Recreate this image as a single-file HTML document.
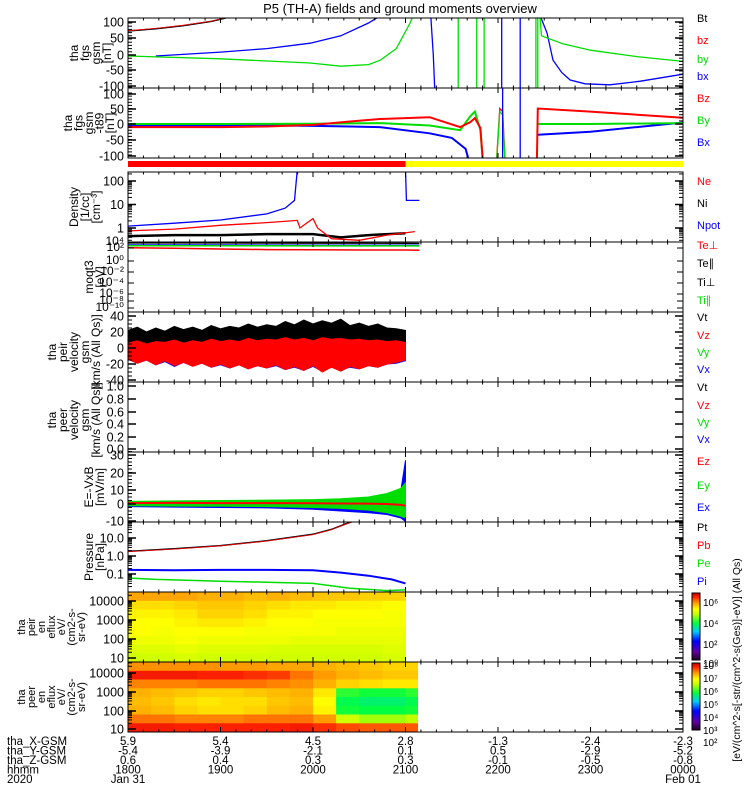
<!DOCTYPE html>
<html><head><meta charset="utf-8"><title>P5 overview</title>
<style>
html,body{margin:0;padding:0;background:#fff;}
svg{display:block;font-family:"Liberation Sans",sans-serif;}
text{font-size:11px;fill:#000;}
</style></head>
<body>
<svg id="plot" width="750" height="800" viewBox="0 0 750 800" xmlns="http://www.w3.org/2000/svg">
<defs>
<linearGradient id="cbar" x1="0" y1="1" x2="0" y2="0">
<stop offset="0" stop-color="#200020"/><stop offset="0.12" stop-color="#6000a0"/><stop offset="0.28" stop-color="#0000ff"/><stop offset="0.42" stop-color="#00c8ff"/><stop offset="0.55" stop-color="#00ff40"/><stop offset="0.68" stop-color="#c0ff00"/><stop offset="0.76" stop-color="#ffff00"/><stop offset="0.86" stop-color="#ff9000"/><stop offset="0.94" stop-color="#ff2000"/><stop offset="1" stop-color="#c00000"/>
</linearGradient>
</defs>
<text x="400" y="13" text-anchor="middle" style="font-size:13px">P5 (TH-A) fields and ground moments overview</text>
<g id="root"></g>
</svg>
<script>
// ---------- data ----------
const hourLabels = ["1800","1900","2000","2100","2200","2300","0000"];
const xGsm = ["5.9","5.4","4.5","2.8","-1.3","-2.4","-2.3"];
const yGsm = ["-5.4","-3.9","-2.1","0.1","0.5","-2.9","-5.2"];
const zGsm = ["0.6","0.4","0.3","0.3","-0.1","-0.5","-0.8"];

// panel 1 fgs (nT)
const btT = [0,0.3,0.6,0.9,1.05,1.15];
const btV = [75,82,92,105,115,125];
const bx1T = [0.3,1.0,1.5,1.97,2.3,2.6,2.8,3.27,3.3,3.32];
const bx1V = [-3,9,20,37,60,100,135,135,0,-135];
const bx2T = [4.46,4.53,4.595,4.69,4.78,4.94,5.21,5.54,6.0];
const bx2V = [120,69,-16,-55,-78,-90,-93,-82,-60];
const bxSpikeT = [4.04,4.24];
const by1T = [0,1,1.97,2.3,2.6,2.73,2.9,3.05,3.1];
const by1V = [-3,-12,-25,-35,-30,-16,20,100,135];
const by2T = [4.45,4.47,4.7,5.0,5.5,6.0];
const by2V = [135,60,35,15,-5,-20];
const bySpikeT = [3.57,3.77,3.85,4.41,4.43];

// panel 2 fgs-t89 (nT)
const dz1T = [0,1,1.5,2,2.4,2.72,3.26,3.59,3.70,3.75,3.81,3.84];
const dz1V = [-10,-10,-8,-3,8,16,22,-10,6,19,-13,-135];
const dy1T = [0,1,2,2.4,2.72,3.26,3.59,3.70,3.75,3.81,3.84];
const dy1V = [0,0,1,2,3,-5,-20,25,40,-20,-135];
const dx1T = [0,1,1.6,2.0,2.4,2.72,3.26,3.5,3.65,3.70];
const dx1V = [-5,-5,-5,-6,-8,-10,-30,-45,-80,-135];
const dzSpT = [3.98,4.02,4.05,4.08];
const dzSpV = [-135,50,40,-135];
const dz2T = [4.42,4.43,5.0,6.0];
const dz2V = [-135,50,40,20];
const dy2T = [4.43,5.0,6.0];
const dy2V = [0,0,3];
const dx2T = [4.43,5.0,5.5,6.0];
const dx2V = [-35,-25,-10,5];
const dxSpikeT = [4.05,4.24];

// panel 3 density (cm^-3)
const npotT = [0,0.5,1.0,1.5,1.7,1.8,1.83,3.0,3.01,3.15];
const npotV = [1.2,1.6,2.2,4,7,15,300,300,15,15];
const neT = [0,0.5,1,1.5,1.83,1.86,1.92,2.0,2.05,2.2,2.5,2.8,3.1];
const neV = [0.75,0.9,1.3,1.7,2.1,1.0,1.5,2.5,1.0,0.35,0.3,0.5,0.7];
const niT = [0,0.5,1,1.5,2,2.3,2.6,3.0];
const niV = [0.45,0.5,0.5,0.55,0.55,0.4,0.5,0.6];

// panel 4 temperatures (eV)
const tT = [0,0.5,1,1.5,2,2.5,3,3.15];
const teParV = [1900,1900,1850,1800,1700,1700,1650,1600];
const tiPerpV = [800,800,800,780,760,760,740,740];
const tiParV = [600,600,600,580,560,560,550,550];
const tePerpV = [250,200,150,120,110,100,100,90];

// panel 5 ion velocity envelopes (km/s)
const vT = [0,0.1,0.2,0.3,0.4,0.5,0.6,0.7,0.8,0.9,1.0,1.1,1.2,1.3,1.4,1.5,1.6,1.7,1.8,1.9,2.0,2.1,2.2,2.3,2.4,2.5,2.6,2.7,2.8,2.9,3.0];
const vtHi = [22,26,20,25,21,27,23,26,22,28,24,27,25,30,26,29,27,33,29,35,30,34,31,36,28,31,27,30,25,24,22];
const vtLo = [4,5,3,5,4,6,4,5,4,6,5,6,5,6,5,6,5,7,6,7,6,7,6,7,6,6,5,6,5,5,4];
const vzHi = [6,9,5,8,7,10,6,9,7,11,8,10,8,12,9,11,10,13,10,12,9,13,11,12,10,11,9,10,8,9,7];
const vzLo = [-14,-19,-15,-21,-16,-22,-18,-23,-19,-24,-20,-25,-21,-26,-22,-25,-21,-27,-23,-28,-22,-30,-24,-29,-23,-26,-22,-24,-20,-18,-15];
const vyLo = [-12,-17,-13,-19,-15,-21,-16,-20,-17,-22,-19,-23,-19,-24,-20,-23,-20,-25,-22,-26,-21,-27,-22,-26,-22,-24,-20,-22,-18,-17,-14];

// panel 7 E field (mV/m)
const eT = [0,0.5,1,1.5,2,2.3,2.6,2.8,2.95,3.0];
const eyHi = [1.5,1.8,2,2.2,2.5,3,4,6,9,12];
const eyLo = [-1,-1.2,-1.3,-1.5,-2,-2.5,-3.5,-5,-7,-8];
const exHi = [0.8,1,1.2,1.5,2,2.5,3,4,8,25];
const exLo = [-1.5,-1.8,-2,-2.2,-3,-4,-5,-6,-8,-10];
const ezV = [0.5,0.6,0.5,0.5,0.4,0.3,0.2,0,-0.5,-1];

// panel 8 pressure (nPa)
const pT = [0,0.5,1,1.5,2,2.2,2.35,2.5];
const ptV = [1.8,2.5,3.8,7,16,30,60,110];
const piT = [0,0.5,1,1.5,2,2.3,2.6,2.85,3.0];
const piV = [0.17,0.16,0.17,0.17,0.16,0.12,0.08,0.05,0.03];
const peT = [0,0.3,1,1.5,2,2.4,2.8,3.0];
const peV = [0.06,0.05,0.04,0.035,0.03,0.016,0.012,0.013];

// spectrograms: normalised log flux level (0..1), rows high->low energy, columns every 15 min
const ionSpec = [
 [0.84,0.84,0.84,0.83,0.83,0.82,0.83,0.82,0.81,0.81,0.80,0.80],
 [0.79,0.79,0.80,0.81,0.81,0.80,0.79,0.78,0.78,0.77,0.77,0.76],
 [0.77,0.77,0.78,0.80,0.80,0.79,0.77,0.77,0.76,0.76,0.76,0.75],
 [0.76,0.76,0.77,0.78,0.78,0.77,0.76,0.76,0.75,0.75,0.75,0.75],
 [0.76,0.75,0.76,0.76,0.76,0.75,0.75,0.75,0.75,0.74,0.74,0.74],
 [0.74,0.74,0.75,0.74,0.74,0.74,0.74,0.73,0.73,0.73,0.73,0.73],
 [0.72,0.72,0.73,0.72,0.72,0.72,0.71,0.71,0.71,0.71,0.71,0.72],
 [0.70,0.70,0.71,0.70,0.70,0.70,0.70,0.70,0.70,0.70,0.70,0.71]
];
const eleSpec = [
 [0.86,0.86,0.86,0.86,0.85,0.85,0.84,0.84,0.83,0.82,0.81,0.80,0.80],
 [0.95,0.95,0.95,0.94,0.94,0.93,0.92,0.88,0.85,0.83,0.82,0.81,0.81],
 [0.87,0.87,0.87,0.88,0.88,0.88,0.87,0.86,0.83,0.80,0.79,0.78,0.78],
 [0.83,0.82,0.81,0.80,0.80,0.81,0.82,0.83,0.78,0.58,0.56,0.56,0.58],
 [0.82,0.81,0.79,0.78,0.79,0.79,0.81,0.82,0.76,0.54,0.52,0.52,0.54],
 [0.83,0.82,0.80,0.79,0.79,0.80,0.82,0.83,0.77,0.56,0.55,0.55,0.56],
 [0.88,0.88,0.87,0.87,0.87,0.88,0.88,0.88,0.85,0.70,0.66,0.66,0.68],
 [0.95,0.95,0.94,0.94,0.94,0.94,0.94,0.95,0.93,0.91,0.90,0.90,0.90]
];
const ionEnd = 3.0, eleEnd = 3.13;

// ---------- helpers ----------
const NS = "http://www.w3.org/2000/svg";
const root = document.getElementById('root');
const X0 = 128, X1 = 683;
function xs(t){ return X0 + t*(X1-X0)/6; }
function mk(tag, attrs){ const e=document.createElementNS(NS,tag); for(const k in attrs) e.setAttribute(k, attrs[k]); return e; }
const panels = [
 {name:'fgs-panel',y0:18,y1:88},{name:'fgs-t89-panel',y0:88,y1:158},{name:'density-panel',y0:172,y1:242},
 {name:'temperature-panel',y0:242,y1:312},{name:'peir-velocity-panel',y0:312,y1:382},{name:'peer-velocity-panel',y0:382,y1:452},
 {name:'efield-panel',y0:452,y1:522},{name:'pressure-panel',y0:522,y1:592},{name:'ion-spectrogram-panel',y0:592,y1:662},{name:'electron-spectrogram-panel',y0:662,y1:732}
];
const groups = [];
panels.forEach((p,i)=>{
  const cp = mk('clipPath',{id:'clip'+i}); cp.appendChild(mk('rect',{x:X0,y:p.y0,width:X1-X0,height:p.y1-p.y0}));
  root.appendChild(cp);
  const g = mk('g',{'clip-path':'url(#clip'+i+')'});
  
  
  root.appendChild(g); groups.push(g);
});
function lin(v0,y0,scale){ return v=>y0 - (v-v0)*scale; }
function logs(y1,scale){ return v=>y1 - Math.log10(v)*scale; }
function line(gi, ts, vs, yf, color, name, w){
  const pts = ts.map((t,i)=>xs(t).toFixed(1)+','+yf(vs[i]).toFixed(1)).join(' ');
  const el = mk('polyline',{points:pts,fill:'none',stroke:color,'stroke-width':w||1.3});
  
  
  groups[gi].appendChild(el);
}
function band(gi, ts, hi, lo, yf, color, name){
  const a = ts.map((t,i)=>xs(t).toFixed(1)+','+yf(hi[i]).toFixed(1));
  const b = ts.map((t,i)=>xs(t).toFixed(1)+','+yf(lo[i]).toFixed(1)).reverse();
  const el = mk('polygon',{points:a.concat(b).join(' '),fill:color,stroke:color,'stroke-width':1});
  
  
  groups[gi].appendChild(el);
}
function vline(gi, t, color, name){
  const p = panels[gi];
  const el = mk('line',{x1:xs(t),x2:xs(t),y1:p.y0,y2:p.y1,stroke:color,'stroke-width':1.3});
  
  
  groups[gi].appendChild(el);
}

// ---------- panel 1 ----------
const y1f = lin(0,55,0.32);
line(0, btT, btV, y1f, '#000', 'bt-line', 1.5);
line(0, btT, btV.map(v=>v+1), y1f, '#f00', 'bz-line', 0.8);
line(0, bx1T, bx1V, y1f, '#00f', 'bx-line');
line(0, bx2T, bx2V, y1f, '#00f', 'bx-line-late');
bxSpikeT.forEach(t=>vline(0,t,'#00f','bx-spike'));
line(0, by1T, by1V, y1f, '#0d0', 'by-line');
line(0, by2T, by2V, y1f, '#0d0', 'by-line-late');
bySpikeT.forEach(t=>vline(0,t,'#0d0','by-spike'));
// ---------- panel 2 ----------
const y2f = lin(0,124,0.31);
line(1, dx1T, dx1V, y2f, '#00f', 'dbx-line', 2);
line(1, dy1T, dy1V, y2f, '#0d0', 'dby-line', 2);
line(1, dz1T, dz1V, y2f, '#f00', 'dbz-line', 2);
line(1, dzSpT, dzSpV, y2f, '#f00', 'dbz-spike');
line(1, dzSpT, dzSpV.map(v=>v-10), y2f, '#0d0', 'dby-spike');
dxSpikeT.forEach(t=>vline(1,t,'#00f','dbx-spike'));
line(1, dx2T, dx2V, y2f, '#00f', 'dbx-line-late', 2);
line(1, dy2T, dy2V, y2f, '#0d0', 'dby-line-late', 2);
line(1, dz2T, dz2V, y2f, '#f00', 'dbz-line-late', 2);
// ---------- panel 3 ----------
const y3f = v=>181 - (Math.log10(v)-2)*23.5;
line(2, niT, niV, y3f, '#000', 'ni-line', 2.5);
line(2, neT, neV, y3f, '#f00', 'ne-line');
line(2, npotT, npotV, y3f, '#00f', 'npot-line');
// ---------- panel 4 ----------
const y4f = logs(261,5.5);
line(3, tT, teParV, y4f, '#000', 'te-par-line');
line(3, tT, tiPerpV, y4f, '#00f', 'ti-perp-line', 1.5);
line(3, tT, tiParV, y4f, '#0d0', 'ti-par-line', 1.5);
line(3, tT, tePerpV, y4f, '#f00', 'te-perp-line', 1.5);
// ---------- panel 5 ----------
const y5f = lin(0,348,0.8);
band(4, vT, vtHi, vtLo, y5f, '#000', 'vt-band');
band(4, vT, vzHi.map(v=>v-4), vyLo, y5f, '#0d0', 'vy-band');
band(4, vT, vzHi.map(v=>v-6), vyLo.map(v=>v-2), y5f, '#00f', 'vx-band');
band(4, vT, vzHi, vzLo, y5f, '#f00', 'vz-band');
// ---------- panel 7 ----------
const y7f = lin(0,504,1.75);
band(6, eT, exHi, exLo, y7f, '#00f', 'ex-band');
band(6, eT, eyHi, eyLo, y7f, '#0d0', 'ey-band');
line(6, eT, ezV, y7f, '#f00', 'ez-line', 2);
// ---------- panel 8 ----------
const y8f = v=>556 - Math.log10(v)*18;
line(7, pT, ptV, y8f, '#000', 'pt-line', 1.5);
line(7, pT, ptV.map(v=>v*0.97), y8f, '#f00', 'pb-line', 0.8);
line(7, piT, piV, y8f, '#00f', 'pi-line', 2);
line(7, peT, peV, y8f, '#0d0', 'pe-line', 1.5);
// ---------- spectrograms ----------
const cstops = [[0,[32,0,32]],[0.12,[96,0,160]],[0.28,[0,0,255]],[0.42,[0,200,255]],[0.55,[0,255,64]],[0.68,[192,255,0]],[0.76,[255,255,0]],[0.86,[255,144,0]],[0.94,[255,32,0]],[1,[192,0,0]]];
function cmap(v){
  for(let i=1;i<cstops.length;i++){ if(v<=cstops[i][0]){ const a=cstops[i-1],b=cstops[i]; const f=(v-a[0])/(b[0]-a[0]);
    return 'rgb('+a[1].map((c,k)=>Math.round(c+(b[1][k]-c)*f)).join(',')+')'; } }
  return 'rgb(192,0,0)';
}
function spec(gi, mat, tEnd, name){
  const p = panels[gi], rows = mat.length, rh = (p.y1-p.y0)/rows;
  mat.forEach((row,r)=>row.forEach((v,c)=>{
    const x = xs(c*0.25), xe = xs(Math.min((c+1)*0.25, tEnd));
    if(xe<=x) return;
    const el = mk('rect',{x:x.toFixed(1),y:(p.y0+r*rh).toFixed(1),width:(xe-x+0.5).toFixed(1),height:(rh+0.5).toFixed(1),fill:cmap(v)});
    
    
    groups[gi].appendChild(el);
  }));
}
spec(8, ionSpec, ionEnd, 'ion-spectrogram');
spec(9, eleSpec, eleEnd, 'electron-spectrogram');
// ---------- ESA mode bar ----------
const barR = mk('rect',{x:X0,y:161,width:xs(3)-X0,height:6,fill:'#f00'});


root.appendChild(barR);
const barY = mk('rect',{x:xs(3),y:161,width:X1-xs(3),height:6,fill:'#ff0'});


root.appendChild(barY);

// ---------- frames, ticks ----------
function txt(x,y,s,anchor,name,size,color){
  const e = mk('text',{x:x,y:y,'text-anchor':anchor||'start'}); e.textContent=s;
  if(size) e.style.fontSize=size+'px'; if(color) e.style.fill=color;
  
  
  root.appendChild(e); return e;
}
function ln(x1,y1,x2,y2,w){ root.appendChild(mk('line',{x1:x1,y1:y1,x2:x2,y2:y2,stroke:'#000','stroke-width':w||1})); }
panels.forEach(p=>{
  const fr = mk('rect',{x:X0,y:p.y0,width:X1-X0,height:p.y1-p.y0,fill:'none',stroke:'#000','stroke-width':1});
  
  
  root.appendChild(fr);
  for(let m=0;m<=36;m++){ const x=xs(m/6); const L=(m%6===0)?5:2.5; ln(x,p.y0,x,p.y0+L); ln(x,p.y1,x,p.y1-L); }
});
const yTicks = [
 [[100,22],[50,38],[0,55],[-50,70],[-100,86]],
 [[100,94],[50,109],[0,124],[-50,140],[-100,156]],
 [[100,181],[10,204.5],[1,228]],
 [],
 [[40,316],[20,332],[0,348],[-20,364],[-40,380]],
 [['1.0',386],['0.8',399],['0.6',412],['0.4',424],['0.2',437],['0.0',449]],
 [[30,455],[20,473],[10,490],[0,504],[-10,521]],
 [['10.0',538],['1.0',556],['0.1',574]],
 [[10000,601],[1000,620],[100,639],[10,658]],
 [[10000,673],[1000,692],[100,711],[10,729]]
];
yTicks.forEach((arr,i)=>arr.forEach(([v,y])=>{
  ln(X0,y,X0+8,y,1.5); ln(X1,y,X1-8,y,1.5);
  txt(X0-4,y+4.5,String(v),'end','y-tick-label',12.5);
}));
// minor ticks on linear panels
[[0,55,0.32,-100,100,10],[1,124,0.31,-100,100,10],[4,348,0.8,-40,40,5],[6,504,1.75,-10,30,2]].forEach(([i,y0,sc,a,b,st])=>{
  for(let v=a;v<=b;v+=st){ const y=y0-v*sc; ln(X0,y,X0+4,y); ln(X1,y,X1-4,y); }
});
[[2,181,23.5,-1,2],[7,556,18,-2,1]].forEach(([i,yb,sc,d0,d1])=>{
  for(let d=d0;d<=d1;d++) for(let k=2;k<10;k++){ const y=yb-(d+Math.log10(k))*sc+(i===2?47:0); if(y>panels[i].y0&&y<panels[i].y1){ ln(X0,y,X0+4,y); ln(X1,y,X1-4,y);} }
});
[[8,658,19],[9,729,19]].forEach(([i,yb,sc])=>{
  for(let d=0;d<4;d++) for(let k=2;k<10;k++){ const y=yb-(d+Math.log10(k))*sc; if(y>panels[i].y0&&y<panels[i].y1){ ln(X0,y,X0+4,y); ln(X1,y,X1-4,y);} }
});
// temperature axis labels
[['10⁴',245],['10²',251],['10⁰',264],['10⁻²',275],['10⁻⁴',286],['10⁻⁶',297],['10⁻⁸',304],['10⁻¹⁰',311]].forEach(([s,y])=>{
  ln(X0,y-3,X0+6,y-3); ln(X1,y-3,X1-6,y-3); txt(X0-4,y,s,'end','y-tick-label',12);
});

// ---------- left axis titles ----------
function vtitle(lines, xs0, dx, yc, name, size){
  lines.forEach((s,k)=>{
    const e = mk('text',{x:0,y:0,'text-anchor':'middle',transform:'translate('+(xs0+k*dx)+','+yc+') rotate(-90)'});
    e.textContent=s; e.style.fontSize=(size||12)+'px';
    
    
    root.appendChild(e);
  });
}
vtitle(['tha','fgs','gsm','[nT]'],78,11,53,'fgs-axis-title');
vtitle(['tha','fgs','gsm','-t89','[nT]'],72,10.5,123,'fgs-t89-axis-title');
vtitle(['Density','[1/cc]','[cm⁻³]'],78,11,207,'density-axis-title');
vtitle(['moqt3','[eV]'],93,11,277,'temperature-axis-title');
vtitle(['tha','peir','velocity','gsm','[km/s (All Qs)]'],56,11,352,'peir-velocity-axis-title');
vtitle(['tha','peer','velocity','gsm','[km/s (All Qs)]'],56,11,420,'peer-velocity-axis-title');
vtitle(['E=-VxB','[mV/m]'],93,11,487,'efield-axis-title');
vtitle(['Pressure','[nPa]'],93,11,557,'pressure-axis-title');
vtitle(['tha','peir','en','eflux','eV/','(cm2-s-','sr-eV)'],25,10,627,'ion-spectrogram-axis-title',11);
vtitle(['tha','peer','en','eflux','eV/','(cm2-s-','sr-eV)'],25,10,697,'electron-spectrogram-axis-title',11);

// ---------- right legends ----------
[['Bt',22,'#000'],['bz',44,'#f00'],['by',63,'#0d0'],['bx',80,'#00f'],
 ['Bz',102,'#f00'],['By',124,'#0d0'],['Bx',146,'#00f'],
 ['Ne',185,'#f00'],['Ni',207,'#000'],['Npot',229,'#00f'],
 ['Te⊥',249,'#f00'],['Te∥',267,'#000'],['Ti⊥',286,'#000'],['Ti∥',304,'#0d0'],
 ['Vt',321,'#000'],['Vz',339,'#f00'],['Vy',356,'#0d0'],['Vx',373,'#00f'],
 ['Vt',391,'#000'],['Vz',409,'#f00'],['Vy',426,'#0d0'],['Vx',443,'#00f'],
 ['Ez',465,'#f00'],['Ey',489,'#0d0'],['Ex',511,'#00f'],
 ['Pt',531,'#000'],['Pb',549,'#f00'],['Pe',567,'#0d0'],['Pi',585,'#00f']
].forEach(([s,y,c])=>txt(697,y,s,'start','legend-entry',11,c));

// ---------- colorbars ----------
[[593,660],[663,730]].forEach(([a,b],ci)=>{
  const r = mk('rect',{x:692,y:a,width:8,height:b-a,fill:'url(#cbar)',stroke:'#000','stroke-width':1});
  
  
  root.appendChild(r);
});
[['10⁶',606],['10⁴',627],['10²',648],['10⁰',667]].forEach(([s,y])=>txt(703,y,s,'start','colorbar-tick-label',10));
[['10⁸',669],['10⁷',682],['10⁶',695],['10⁵',708],['10⁴',721],['10³',734],['10²',746]].forEach(([s,y])=>txt(703,y,s,'start','colorbar-tick-label',10));
{
  const e = mk('text',{x:0,y:0,'text-anchor':'middle',transform:'translate(740,660) rotate(-90)'});
  e.textContent='[eV/(cm^2-s[-str/(cm^2-s(Ges)]-eV)] (All Qs)'; e.style.fontSize='10.5px';
  
  
  root.appendChild(e);
}

// ---------- bottom time axis ----------
[['tha_X-GSM',745],['tha_Y-GSM',754.5],['tha_Z-GSM',764],['hhmm',773.5],['2020',783]].forEach(([s,y])=>txt(7,y,s,'start','time-axis-row-label',11.5));
hourLabels.forEach((h,i)=>{
  const x = xs(i);
  txt(x,745,xGsm[i],'middle','x-gsm-value',11.5);
  txt(x,754.5,yGsm[i],'middle','y-gsm-value',11.5);
  txt(x,764,zGsm[i],'middle','z-gsm-value',11.5);
  txt(x,773.5,h,'middle','hhmm-tick-label',11.5);
});
txt(xs(0),783,'Jan 31','middle','date-label',11.5);
txt(xs(6),783,'Feb 01','middle','date-label',11.5);
</script>
</body></html>
